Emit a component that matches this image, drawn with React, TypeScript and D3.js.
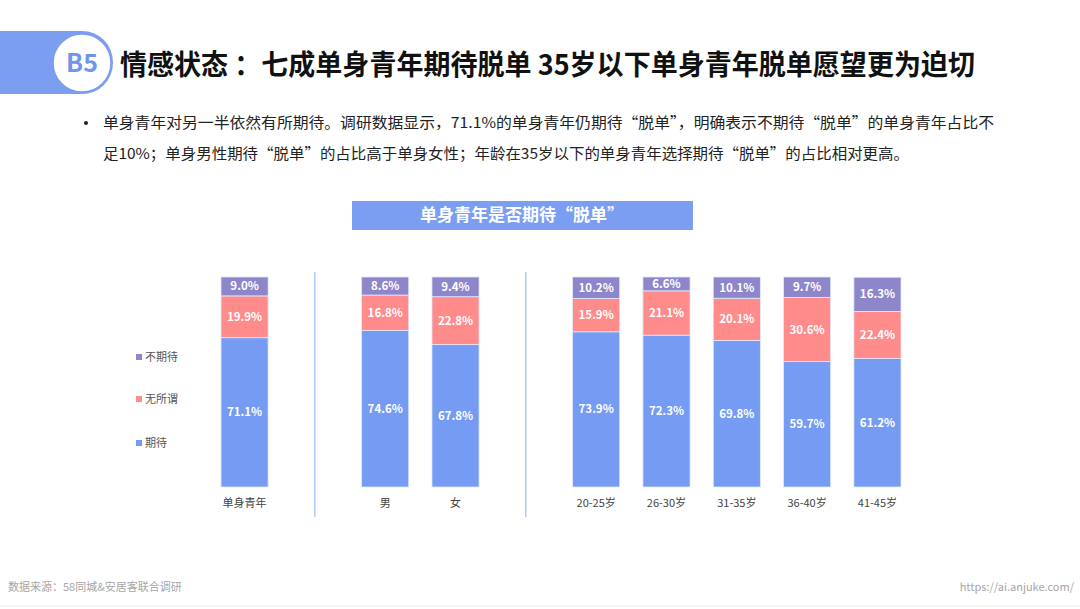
import React, { useEffect, useRef } from "react";
import * as d3 from "d3";

// slots on the x axis; "|a" and "|b" are the divider slots
const slots = ["单身青年", "|a", "男", "女", "|b", "20-25岁", "26-30岁", "31-35岁", "36-40岁", "41-45岁"];
const categories = ["单身青年", "男", "女", "20-25岁", "26-30岁", "31-35岁", "36-40岁", "41-45岁"];
const expect = [71.1, 74.6, 67.8, 73.9, 72.3, 69.8, 59.7, 61.2];
const indifferent = [19.9, 16.8, 22.8, 15.9, 21.1, 20.1, 30.6, 22.4];
const notExpect = [9.0, 8.6, 9.4, 10.2, 6.6, 10.1, 9.7, 16.3];
const seriesNames = ["期待", "无所谓", "不期待"];
const seriesColors = ["#759cf2", "#ff8b8b", "#8e86cb"];

const FONT = "'Noto Sans CJK SC', 'Noto Sans', sans-serif";

export default function App() {
    const ref = useRef<SVGSVGElement>(null);

    useEffect(() => {
        const svg = d3.select(ref.current);
        svg.selectAll("*").remove();

        // header
        svg.append("rect")
            .attr("x", -40).attr("y", 31)
            .attr("width", 153).attr("height", 63)
            .attr("rx", 31)
            .attr("fill", "#7b9ef0");
        svg.append("circle")
            .attr("cx", 82).attr("cy", 63).attr("r", 29)
            .attr("fill", "#fff")
            .attr("stroke", "#7b9ef0")
            .attr("stroke-width", 1.5);
        svg.append("text")
            .attr("x", 82).attr("y", 72)
            .attr("text-anchor", "middle")
            .attr("font-family", FONT)
            .attr("font-weight", "bold")
            .attr("font-size", 25)
            .attr("fill", "#6f94ee")
            .text("B5");
        svg.append("text")
            .attr("x", 120).attr("y", 75)
            .attr("font-family", FONT)
            .attr("font-weight", "bold")
            .attr("font-size", 28)
            .attr("fill", "#111")
            .attr("textLength", 855)
            .attr("lengthAdjust", "spacingAndGlyphs")
            .text("情感状态 ：七成单身青年期待脱单 35岁以下单身青年脱单愿望更为迫切");

        // bullet text
        svg.append("circle").attr("cx", 86).attr("cy", 123).attr("r", 2).attr("fill", "#222");
        const lines = [
            "单身青年对另一半依然有所期待。调研数据显示，71.1%的单身青年仍期待“脱单”，明确表示不期待“脱单”的单身青年占比不",
            "足10%；单身男性期待“脱单”的占比高于单身女性；年龄在35岁以下的单身青年选择期待“脱单”的占比相对更高。"
        ];
        const lineLens = [891, 806];
        lines.forEach((t, i) => {
            svg.append("text")
                .attr("x", 103).attr("y", 128 + i * 31)
                .attr("font-family", FONT)
                .attr("font-size", 15)
                .attr("fill", "#222")
                .attr("textLength", lineLens[i])
                .attr("lengthAdjust", "spacingAndGlyphs")
                .text(t);
        });

        // chart title box
        svg.append("rect")
            .attr("x", 352).attr("y", 201)
            .attr("width", 341).attr("height", 29)
            .attr("fill", "#7b9ef2");
        svg.append("text")
            .attr("x", 522).attr("y", 221)
            .attr("text-anchor", "middle")
            .attr("font-family", FONT)
            .attr("font-weight", "bold")
            .attr("font-size", 17)
            .attr("fill", "#fff")
            .text("单身青年是否期待“脱单”");

        // scales
        const top = 277, bottom = 487;
        const x = d3.scaleBand()
            .domain(slots)
            .range([221, 901])
            .paddingInner(0.33)
            .paddingOuter(0);
        const y = d3.scaleLinear().domain([0, 100]).range([bottom, top]);

        const rows = categories.map((c, i) => ({ cat: c, 期待: expect[i], 无所谓: indifferent[i], 不期待: notExpect[i] }));
        const stack = d3.stack<any>().keys(seriesNames)(rows);

        const g = svg.append("g");

        // divider lines
        ["|a", "|b"].forEach(s => {
            const cx = (x(s) as number) + x.bandwidth() / 2;
            g.append("line")
                .attr("x1", cx).attr("x2", cx)
                .attr("y1", 272).attr("y2", 517)
                .attr("stroke", "#8fadf2")
                .attr("stroke-width", 1);
        });

        stack.forEach((layer, li) => {
            layer.forEach(d => {
                const cat = d.data.cat;
                const bx = x(cat) as number;
                const y0 = y(d[1]), y1 = y(d[0]);
                g.append("rect")
                    .attr("x", bx).attr("y", y0)
                    .attr("width", x.bandwidth())
                    .attr("height", y1 - y0)
                    .attr("fill", seriesColors[li])
                    .attr("stroke", "#e3e9fb")
                    .attr("stroke-width", 0.8);
                g.append("text")
                    .attr("x", bx + x.bandwidth() / 2)
                    .attr("y", (y0 + y1) / 2 + 4)
                    .attr("text-anchor", "middle")
                    .attr("font-family", FONT)
                    .attr("font-weight", "bold")
                    .attr("font-size", 11.5)
                    .attr("fill", "#fff")
                    .text(d.data[seriesNames[li]].toFixed(1) + "%");
            });
        });

        // category labels
        categories.forEach(c => {
            g.append("text")
                .attr("x", (x(c) as number) + x.bandwidth() / 2)
                .attr("y", 507)
                .attr("text-anchor", "middle")
                .attr("font-family", FONT)
                .attr("font-size", 11)
                .attr("fill", "#444")
                .text(c);
        });

        // legend
        const legendY = [443, 399, 357];
        seriesNames.forEach((s, i) => {
            g.append("rect")
                .attr("x", 136).attr("y", legendY[i] - 3)
                .attr("width", 6).attr("height", 6)
                .attr("fill", seriesColors[i]);
            g.append("text")
                .attr("x", 145).attr("y", legendY[i] + 4)
                .attr("font-family", FONT)
                .attr("font-size", 11)
                .attr("fill", "#555")
                .text(s);
        });

        // footer
        svg.append("text")
            .attr("x", 8).attr("y", 591)
            .attr("font-family", FONT)
            .attr("font-size", 11)
            .attr("fill", "#a6a6a6")
            .text("数据来源：58同城&安居客联合调研");
        svg.append("text")
            .attr("x", 1074).attr("y", 591)
            .attr("text-anchor", "end")
            .attr("font-family", FONT)
            .attr("font-size", 11)
            .attr("fill", "#a6a6a6")
            .text("https://ai.anjuke.com/");
        svg.append("line")
            .attr("x1", 0).attr("x2", 1080)
            .attr("y1", 606).attr("y2", 606)
            .attr("stroke", "#ececec");
    }, []);

    return (
        <svg ref={ref} width={1080} height={609}
            style={{ position: "absolute", left: 0, top: 0, background: "#fff" }} />
    );
}
